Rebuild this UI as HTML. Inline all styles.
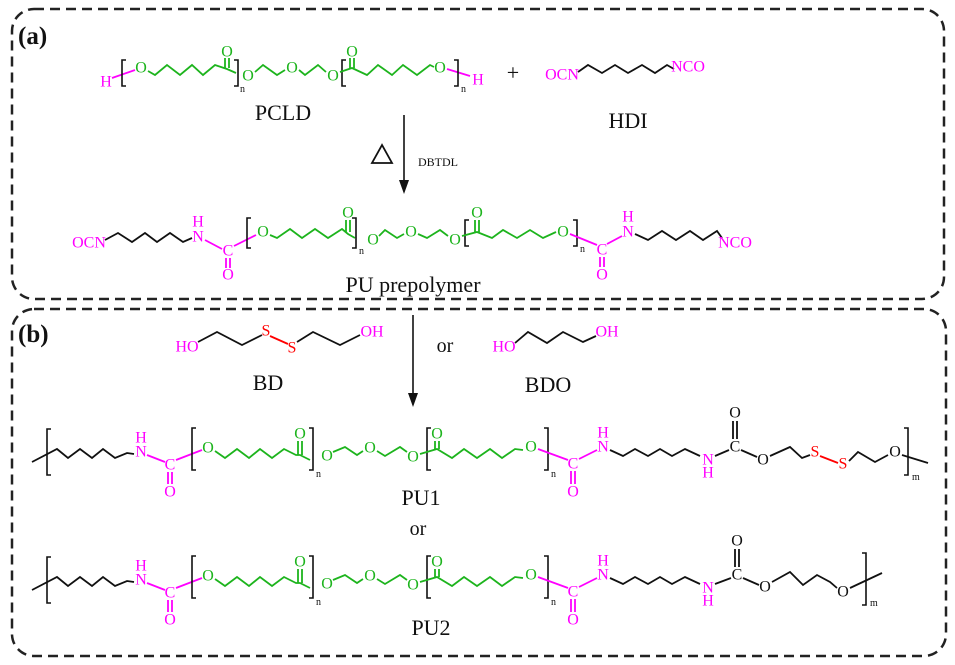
<!DOCTYPE html>
<html><head><meta charset="utf-8"><style>
html,body{margin:0;padding:0;background:#fff}
svg{display:block}
text{font-family:"Liberation Serif",serif}
.a{font-size:16px;text-anchor:middle;dominant-baseline:central}
.m{fill:#f0f}.g{fill:#1db41d}.r{fill:#f00}.k{fill:#111}
.lbl{font-size:22px;text-anchor:middle;fill:#111}
.sub{font-size:10px;fill:#111}
.bk{stroke:#111;fill:none;stroke-width:1.8}
.gl{stroke:#1db41d;fill:none;stroke-width:1.8}
.ml{stroke:#f0f;fill:none;stroke-width:1.8}
.rl{stroke:#f00;fill:none;stroke-width:1.8}
.br{stroke:#111;fill:none;stroke-width:1.6}
</style></head><body>
<svg width="955" height="665" viewBox="0 0 955 665" xmlns="http://www.w3.org/2000/svg">
<!-- boxes -->
<rect x="12" y="9" width="932" height="290" rx="22" fill="none" stroke="#222" stroke-width="2.5" stroke-dasharray="10,6"/>
<rect x="12" y="309" width="934" height="347" rx="22" fill="none" stroke="#222" stroke-width="2.5" stroke-dasharray="10,6"/>
<text x="18" y="44" style="font-size:25px;font-weight:bold" class="k">(a)</text>
<text x="18" y="342" style="font-size:25px;font-weight:bold" class="k">(b)</text>

<!-- PCLD -->
<text class="a m" x="106" y="82">H</text>
<polyline class="ml" points="112,78 135,70"/>
<path class="br" d="M126,60 H122 V86 H126"/>
<text class="a g" x="141" y="68">O</text>
<polyline class="gl" points="148,71 155,75 167,65 180,75 192,65 203,75 215,65 227,69 236,73"/>
<line class="gl" x1="225" y1="68" x2="225" y2="58"/><line class="gl" x1="229" y1="68" x2="229" y2="58"/>
<text class="a g" x="227" y="52">O</text>
<path class="br" d="M234,60 H238 V86 H234"/><text class="sub" x="240" y="92">n</text>
<text class="a g" x="248" y="76">O</text>
<polyline class="gl" points="255,72 263,65 277,75 285,70"/>
<text class="a g" x="292" y="68">O</text>
<polyline class="gl" points="299,70 305,75 318,65 326,72"/>
<text class="a g" x="333" y="76">O</text>
<path class="br" d="M346,60 H342 V86 H346"/>
<polyline class="gl" points="340,72 352,68 367,75 378,65 392,75 403,65 417,75 430,65 434,67"/>
<line class="gl" x1="350" y1="68" x2="350" y2="58"/><line class="gl" x1="354" y1="68" x2="354" y2="58"/>
<text class="a g" x="352" y="52">O</text>
<text class="a g" x="440" y="68">O</text>
<polyline class="ml" points="447,69 470,76"/>
<path class="br" d="M454,60 H458 V86 H454"/><text class="sub" x="461" y="92">n</text>
<text class="a m" x="478" y="80">H</text>
<text x="513" y="80" style="font-size:22px;text-anchor:middle" class="k">+</text>
<!-- HDI -->
<text class="a m" x="562" y="75">OCN</text>
<polyline class="bk" points="578,72 588,65 602,73 615,65 628,73 642,65 655,73 667,65 674,69"/>
<text class="a m" x="688" y="67">NCO</text>
<text class="lbl" x="283" y="120">PCLD</text>
<text class="lbl" x="628" y="128">HDI</text>
<!-- arrow a -->
<line x1="404" y1="115" x2="404" y2="185" stroke="#111" stroke-width="1.6"/>
<polygon points="399,180 409,180 404,194" fill="#111"/>
<polygon points="382,145 372,163 392,163" fill="none" stroke="#111" stroke-width="1.8"/>
<text x="418" y="166" style="font-size:12px" class="k">DBTDL</text>

<!-- prepolymer -->
<text class="a m" x="89" y="243">OCN</text>
<polyline class="bk" points="105,240 118,233 132,242 145,233 157,242 170,233 183,242 192,238"/>
<text class="a m" x="198" y="237">N</text><text class="a m" x="198" y="222">H</text>
<polyline class="ml" points="205,240 222,249"/>
<text class="a m" x="228" y="251">C</text>
<line class="ml" x1="226" y1="258" x2="226" y2="268"/><line class="ml" x1="230" y1="258" x2="230" y2="268"/>
<text class="a m" x="228" y="275">O</text>
<polyline class="ml" points="234,246 256,235"/>
<path class="br" d="M251,218 H247 V248 H251"/>
<text class="a g" x="263" y="232">O</text>
<polyline class="gl" points="270,235 277,238 290,229 302,238 315,229 328,238 342,229 348,234 355,238"/>
<line class="gl" x1="346" y1="232" x2="346" y2="220"/><line class="gl" x1="350" y1="232" x2="350" y2="220"/>
<text class="a g" x="348" y="213">O</text>
<path class="br" d="M352,218 H356 V248 H352"/><text class="sub" x="359" y="254">n</text>
<text class="a g" x="373" y="240">O</text>
<polyline class="gl" points="379,236 385,230 397,238 404,234"/>
<text class="a g" x="411" y="232">O</text>
<polyline class="gl" points="418,234 427,238 440,230 448,236"/>
<text class="a g" x="455" y="240">O</text>
<path class="br" d="M469,220 H465 V246 H469"/>
<polyline class="gl" points="462,236 477,232 492,238 503,230 517,238 530,230 543,238 556,232"/>
<line class="gl" x1="475" y1="232" x2="475" y2="220"/><line class="gl" x1="479" y1="232" x2="479" y2="220"/>
<text class="a g" x="477" y="213">O</text>
<text class="a g" x="563" y="232">O</text>
<path class="br" d="M573,220 H577 V246 H573"/><text class="sub" x="580" y="252">n</text>
<polyline class="ml" points="570,234 597,245"/>
<text class="a m" x="602" y="250">C</text>
<line class="ml" x1="600" y1="257" x2="600" y2="267"/><line class="ml" x1="604" y1="257" x2="604" y2="267"/>
<text class="a m" x="602" y="275">O</text>
<polyline class="ml" points="607,244 622,236"/>
<text class="a m" x="628" y="232">N</text><text class="a m" x="628" y="217">H</text>
<polyline class="bk" points="635,234 648,240 662,231 676,240 690,231 703,240 717,231 722,238"/>
<text class="a m" x="735" y="243">NCO</text>
<text class="lbl" x="413" y="292">PU prepolymer</text>

<!-- BD / BDO -->
<text class="a m" x="187" y="347">HO</text>
<polyline class="bk" points="198,342 217,332 242,345 262,335"/>
<text class="a r" x="266" y="331">S</text>
<polyline class="rl" points="270,336 288,344"/>
<text class="a r" x="292" y="348">S</text>
<polyline class="bk" points="297,342 313,332 340,345 360,335"/>
<text class="a m" x="372" y="332">OH</text>
<text x="445" y="352" style="font-size:20px;text-anchor:middle" class="k">or</text>
<text class="a m" x="504" y="347">HO</text>
<polyline class="bk" points="515,343 528,332 547,343 563,332 583,342 596,336"/>
<text class="a m" x="607" y="332">OH</text>
<text class="lbl" x="268" y="390">BD</text>
<text class="lbl" x="548" y="392">BDO</text>
<line x1="413" y1="315" x2="413" y2="398" stroke="#111" stroke-width="1.6"/>
<polygon points="408,393 418,393 413,407" fill="#111"/>

<!-- PU backbone left part (PU1) -->
<g id="left">
<polyline class="bk" points="32,462 57,449 68,458 80,449 92,458 103,449 115,458 127,453 134,454"/>
<path class="br" d="M51,429 H47 V475 H51"/>
<text class="a m" x="141" y="452">N</text><text class="a m" x="141" y="438">H</text>
<polyline class="ml" points="147,455 165,462"/>
<text class="a m" x="170" y="465">C</text>
<line class="ml" x1="168" y1="472" x2="168" y2="484"/><line class="ml" x1="172" y1="472" x2="172" y2="484"/>
<text class="a m" x="170" y="492">O</text>
<polyline class="ml" points="176,460 202,450"/>
<path class="br" d="M196,428 H192 V470 H196"/>
<text class="a g" x="208" y="448">O</text>
<polyline class="gl" points="215,451 225,458 237,449 249,458 260,449 272,458 284,449 296,455 300,455 310,460"/>
<line class="gl" x1="298" y1="455" x2="298" y2="441"/><line class="gl" x1="302" y1="455" x2="302" y2="441"/>
<text class="a g" x="300" y="434">O</text>
<path class="br" d="M309,428 H313 V470 H309"/><text class="sub" x="316" y="477">n</text>
<text class="a g" x="327" y="456">O</text>
<polyline class="gl" points="333,452 345,447 357,455 363,451"/>
<text class="a g" x="370" y="448">O</text>
<polyline class="gl" points="377,451 385,456 400,447 407,452"/>
<text class="a g" x="413" y="457">O</text>
<path class="br" d="M431,428 H427 V470 H431"/>
<polyline class="gl" points="420,454 437,449 452,458 464,449 477,458 490,449 502,458 515,449 523,450"/>
<line class="gl" x1="435" y1="449" x2="435" y2="441"/><line class="gl" x1="439" y1="449" x2="439" y2="441"/>
<text class="a g" x="437" y="434">O</text>
<text class="a g" x="531" y="447">O</text>
<path class="br" d="M544,428 H548 V470 H544"/><text class="sub" x="551" y="477">n</text>
<polyline class="ml" points="538,449 568,460"/>
<text class="a m" x="573" y="464">C</text>
<line class="ml" x1="571" y1="471" x2="571" y2="484"/><line class="ml" x1="575" y1="471" x2="575" y2="484"/>
<text class="a m" x="573" y="492">O</text>
<polyline class="ml" points="579,459 597,450"/>
<text class="a m" x="603" y="447">N</text><text class="a m" x="603" y="433">H</text>
<polyline class="bk" points="610,450 623,456 635,449 648,456 660,449 672,456 685,449 700,456"/>
<text class="a m" x="708" y="460">N</text><text class="a m" x="708" y="473">H</text>
</g>
<g transform="translate(0,128)">
<polyline class="bk" points="32,462 57,449 68,458 80,449 92,458 103,449 115,458 127,453 134,454"/>
<path class="br" d="M51,429 H47 V475 H51"/>
<text class="a m" x="141" y="452">N</text><text class="a m" x="141" y="438">H</text>
<polyline class="ml" points="147,455 165,462"/>
<text class="a m" x="170" y="465">C</text>
<line class="ml" x1="168" y1="472" x2="168" y2="484"/><line class="ml" x1="172" y1="472" x2="172" y2="484"/>
<text class="a m" x="170" y="492">O</text>
<polyline class="ml" points="176,460 202,450"/>
<path class="br" d="M196,428 H192 V470 H196"/>
<text class="a g" x="208" y="448">O</text>
<polyline class="gl" points="215,451 225,458 237,449 249,458 260,449 272,458 284,449 296,455 300,455 310,460"/>
<line class="gl" x1="298" y1="455" x2="298" y2="441"/><line class="gl" x1="302" y1="455" x2="302" y2="441"/>
<text class="a g" x="300" y="434">O</text>
<path class="br" d="M309,428 H313 V470 H309"/><text class="sub" x="316" y="477">n</text>
<text class="a g" x="327" y="456">O</text>
<polyline class="gl" points="333,452 345,447 357,455 363,451"/>
<text class="a g" x="370" y="448">O</text>
<polyline class="gl" points="377,451 385,456 400,447 407,452"/>
<text class="a g" x="413" y="457">O</text>
<path class="br" d="M431,428 H427 V470 H431"/>
<polyline class="gl" points="420,454 437,449 452,458 464,449 477,458 490,449 502,458 515,449 523,450"/>
<line class="gl" x1="435" y1="449" x2="435" y2="441"/><line class="gl" x1="439" y1="449" x2="439" y2="441"/>
<text class="a g" x="437" y="434">O</text>
<text class="a g" x="531" y="447">O</text>
<path class="br" d="M544,428 H548 V470 H544"/><text class="sub" x="551" y="477">n</text>
<polyline class="ml" points="538,449 568,460"/>
<text class="a m" x="573" y="464">C</text>
<line class="ml" x1="571" y1="471" x2="571" y2="484"/><line class="ml" x1="575" y1="471" x2="575" y2="484"/>
<text class="a m" x="573" y="492">O</text>
<polyline class="ml" points="579,459 597,450"/>
<text class="a m" x="603" y="447">N</text><text class="a m" x="603" y="433">H</text>
<polyline class="bk" points="610,450 623,456 635,449 648,456 660,449 672,456 685,449 700,456"/>
<text class="a m" x="708" y="460">N</text><text class="a m" x="708" y="473">H</text>
</g>

<!-- PU1 right -->
<polyline class="bk" points="715,456 729,450"/>
<text class="a k" x="735" y="447">C</text>
<line class="bk" x1="733" y1="439" x2="733" y2="421"/><line class="bk" x1="737" y1="439" x2="737" y2="421"/>
<text class="a k" x="735" y="413">O</text>
<polyline class="bk" points="741,450 757,457"/>
<text class="a k" x="763" y="460">O</text>
<polyline class="bk" points="770,456 790,447 802,458 810,455"/>
<text class="a r" x="815" y="452">S</text>
<polyline class="rl" points="820,456 838,463"/>
<text class="a r" x="843" y="464">S</text>
<polyline class="bk" points="849,461 858,452 875,462 888,455"/>
<text class="a k" x="895" y="452">O</text>
<polyline class="bk" points="902,455 928,463"/>
<path class="br" d="M904,428 H908 V475 H904"/><text class="sub" x="912" y="480">m</text>
<text class="lbl" x="421" y="505">PU1</text>
<text x="418" y="535" style="font-size:20px;text-anchor:middle" class="k">or</text>

<!-- PU2 right -->
<polyline class="bk" points="715,584 731,578"/>
<text class="a k" x="737" y="575">C</text>
<line class="bk" x1="735" y1="567" x2="735" y2="549"/><line class="bk" x1="739" y1="549" x2="739" y2="567"/>
<text class="a k" x="737" y="541">O</text>
<polyline class="bk" points="743,578 759,585"/>
<text class="a k" x="765" y="587">O</text>
<polyline class="bk" points="772,582 790,572 803,585 817,575 830,582 837,588"/>
<text class="a k" x="843" y="592">O</text>
<polyline class="bk" points="850,588 882,573"/>
<path class="br" d="M862,553 H866 V605 H862"/><text class="sub" x="870" y="606">m</text>
<text class="lbl" x="431" y="635">PU2</text>
</svg>
</body></html>
